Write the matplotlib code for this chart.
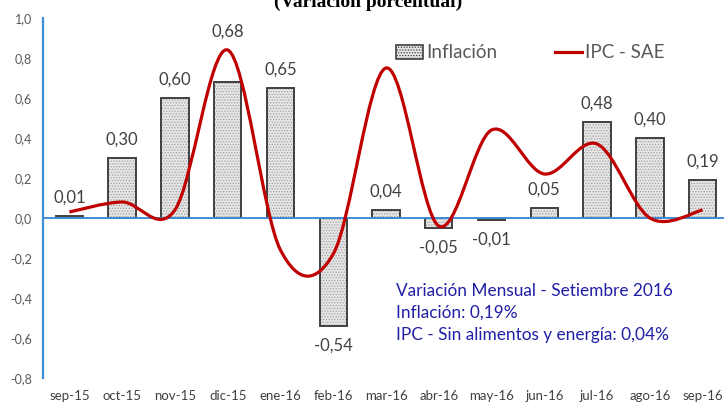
import matplotlib
matplotlib.use("Agg")
import matplotlib.pyplot as plt
from matplotlib.path import Path
from matplotlib.patches import PathPatch, Patch
from matplotlib.lines import Line2D
import numpy as np

categories = ["sep-15", "oct-15", "nov-15", "dic-15", "ene-16", "feb-16", "mar-16",
              "abr-16", "may-16", "jun-16", "jul-16", "ago-16", "sep-16"]
inflacion = [0.01, 0.30, 0.60, 0.68, 0.65, -0.54, 0.04, -0.05, -0.01, 0.05, 0.48, 0.40, 0.19]
ipc_sae = [0.03, 0.08, 0.04, 0.84, -0.16, -0.18, 0.75, -0.04, 0.44, 0.22, 0.37, 0.00, 0.04]
yticks = [-0.8, -0.6, -0.4, -0.2, 0.0, 0.2, 0.4, 0.6, 0.8, 1.0]
note_lines = ["Variación Mensual - Setiembre 2016",
              "Inflación: 0,19%",
              "IPC - Sin alimentos y energía: 0,04%"]

FONT = "Lato"
plt.rcParams["font.family"] = [FONT, "DejaVu Sans"]
plt.rcParams["hatch.linewidth"] = 0.6

fig = plt.figure(figsize=(7.24, 4.04), dpi=100)
ax = fig.add_axes([43 / 724, 1 - 378 / 404, 686 / 724, 360 / 404])

x = np.arange(len(categories))
BLUE = "#3F8ED8"
RED = "#C00000"

# bars: hatched fill then dark outline
ax.bar(x, inflacion, width=0.52, color="#e6e6e6", hatch="......",
       edgecolor="#a0a0a0", linewidth=0, zorder=2)
ax.bar(x, inflacion, width=0.52, fill=False, edgecolor="#404040",
       linewidth=1.4, zorder=3)

# zero line
ax.axhline(0, color=BLUE, linewidth=1.4, zorder=4)

# smooth line (Catmull-Rom as cubic Bezier)
pts = np.column_stack([x, ipc_sae]).astype(float)
verts = [tuple(pts[0])]
codes = [Path.MOVETO]
n = len(pts)
for i in range(n - 1):
    p0 = pts[i - 1] if i > 0 else pts[i]
    p1 = pts[i]
    p2 = pts[i + 1]
    p3 = pts[i + 2] if i + 2 < n else pts[i + 1]
    c1 = p1 + (p2 - p0) / 6.0
    c2 = p2 - (p3 - p1) / 6.0
    verts += [tuple(c1), tuple(c2), tuple(p2)]
    codes += [Path.CURVE4] * 3
ax.add_patch(PathPatch(Path(verts, codes), facecolor="none", edgecolor=RED,
                       linewidth=2.3, zorder=5, capstyle="butt"))

# data labels
for xi, v in zip(x, inflacion):
    txt = f"{v:.2f}".replace(".", ",")
    if v >= 0:
        off = 13
        if categories[xi] == "dic-15":
            off = 36
        ax.annotate(txt, (xi, v), xytext=(0, off), textcoords="offset points",
                    ha="center", va="center", fontsize=12, color="#404040", zorder=6)
    else:
        ax.annotate(txt, (xi, v), xytext=(0, -14), textcoords="offset points",
                    ha="center", va="center", fontsize=12, color="#404040", zorder=6)

ax.set_xlim(-0.5, len(categories) - 0.5)
ax.set_ylim(-0.8, 1.0)
ax.set_yticks(yticks)
ax.set_yticklabels([f"{v:.1f}".replace(".", ",") for v in yticks])
ax.set_xticks(x)
ax.set_xticklabels(categories)
ax.tick_params(axis="y", length=0, pad=8, labelsize=9, labelcolor="#595959")
ax.tick_params(axis="x", length=0, pad=9, labelsize=9.5, labelcolor="#404040")
for s in ["top", "right", "bottom"]:
    ax.spines[s].set_visible(False)
ax.spines["left"].set_color(BLUE)
ax.spines["left"].set_linewidth(1.6)
ax.patch.set_alpha(0)

# annotation text
for k, line in enumerate(note_lines):
    fig.text(396 / 724, 1 - (291 + 22 * k) / 404, line, ha="left", va="center",
             fontsize=12.4, color="#2020A6")

# title (cut off at top, as in the reference)
fig.text(368 / 724, 1 - 7 / 404, "(Variación porcentual)", ha="center", va="baseline",
         fontsize=14, fontweight="bold", family="Liberation Serif", color="black")

# legend
handles = [Patch(facecolor="#e6e6e6", edgecolor="#404040", hatch="......", linewidth=1.2),
           Line2D([0], [0], color=RED, linewidth=2.3)]
fig.legend(handles, ["Inflación", "IPC - SAE"], loc="center left",
           bbox_to_anchor=(379 / 724, 1 - 53 / 404), ncol=2, frameon=False,
           fontsize=13.5, handlelength=1.45, handletextpad=0.15, columnspacing=3.1,
           labelcolor="#595959")

fig.savefig("out.png", dpi=100)
